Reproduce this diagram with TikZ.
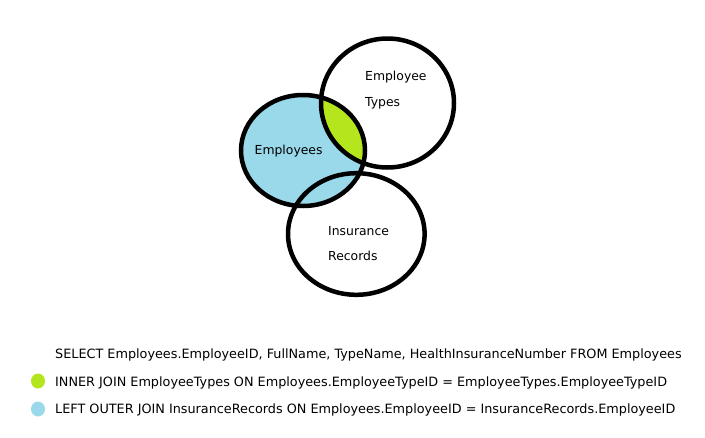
\documentclass[tikz,border=0pt]{standalone}
\usepackage{fontspec}
\setmainfont{DejaVu Sans}
\definecolor{lime}{HTML}{B5E61D}
\definecolor{sky}{HTML}{99D9EA}
\begin{document}
\begin{tikzpicture}[x=1pt,y=-1pt,
  ring/.style={draw=black,line width=4.5pt},
  lbl/.style={anchor=base west,inner sep=0pt,font=\fontsize{12.4}{14}\selectfont},
  sql/.style={anchor=base west,inner sep=0pt,font=\fontsize{12.8}{15}\selectfont}]
\useasboundingbox (0,0) rectangle (705,437);
% fills
\fill[sky] (303,150.5) ellipse [x radius=62, y radius=55.5];
\begin{scope}
  \clip (303,150.5) ellipse [x radius=62, y radius=55.5];
  \fill[lime] (387.5,103) ellipse [x radius=66.5, y radius=64.5];
\end{scope}
% outlines
\draw[ring] (303,150.5) ellipse [x radius=62, y radius=55.5];
\draw[ring] (387.5,103) ellipse [x radius=66.5, y radius=64.5];
\draw[ring] (356.3,234) ellipse [x radius=68.3, y radius=60.8];
% labels
\node[lbl] (et1) at (365,80.3) {Employee};
\node[lbl] (et2) at (365,106) {Types};
\node[lbl] (emp) at (254.5,154) {Employees};
\node[lbl] (ir1) at (328,235) {Insurance};
\node[lbl] (ir2) at (328,260.7) {Records};
% legend
\node[sql] (q1) at (55,358.5) {SELECT Employees.EmployeeID, FullName, TypeName, HealthInsuranceNumber FROM Employees};
\node[sql] (q2) at (55,386) {INNER JOIN EmployeeTypes ON Employees.EmployeeTypeID = EmployeeTypes.EmployeeTypeID};
\node[sql] (q3) at (55,413.5) {LEFT OUTER JOIN InsuranceRecords ON Employees.EmployeeID = InsuranceRecords.EmployeeID};
\fill[lime] (38,381) ellipse [x radius=7, y radius=7.5];
\fill[sky] (38,409) ellipse [x radius=7, y radius=7.5];
\end{tikzpicture}
\end{document}
